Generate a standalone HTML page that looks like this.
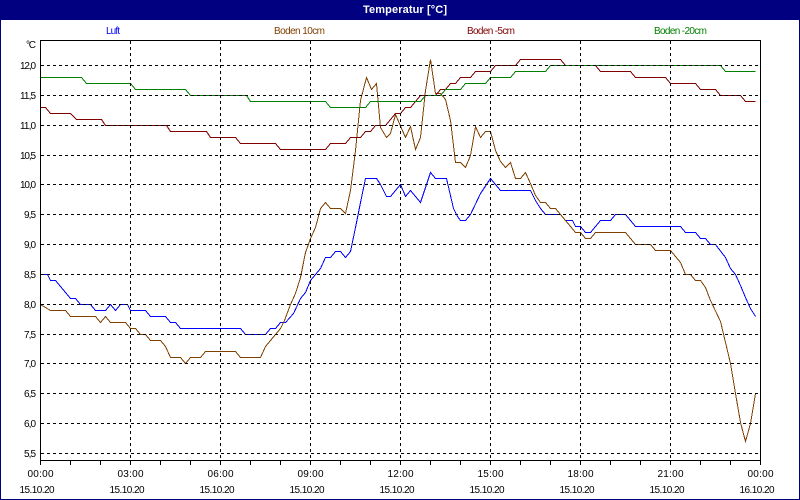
<!DOCTYPE html>
<html>
<head>
<meta charset="utf-8">
<style>
html,body{margin:0;padding:0;background:#fff;}
svg{display:block;}
text{font-family:"Liberation Sans",sans-serif;font-size:10px;}
</style>
</head>
<body>
<svg width="800" height="500" viewBox="0 0 800 500" xmlns="http://www.w3.org/2000/svg">
<rect x="0" y="0" width="800" height="500" fill="#fff"/>
<rect x="0" y="0" width="800" height="20" fill="#000080"/>
<rect x="0.5" y="0.5" width="799" height="499" fill="none" stroke="#000080" stroke-width="1" shape-rendering="crispEdges"/>
<text x="405" y="13" fill="#fff" text-anchor="middle" style="font-weight:bold;font-size:11px" textLength="84">Temperatur [°C]</text>

<!-- legend -->
<text x="106" y="34" fill="#0000ff" textLength="14">Luft</text>
<text x="274" y="34" fill="#804000" textLength="51">Boden 10cm</text>
<text x="467" y="34" fill="#800000" textLength="48">Boden -5cm</text>
<text x="654" y="34" fill="#008000" textLength="53">Boden -20cm</text>

<!-- series -->
<g transform="translate(0.5,0.5)" fill="none" stroke-width="1" shape-rendering="crispEdges">
<polyline stroke="#0000ff" points="40,274 47,274 50,280 55,280 70,298 75,298 80,304 90,304 95,310 105,310 110,304 115,310 120,304 127,304 130,310 145,310 150,316 165,316 170,322 175,322 180,328 240,328 245,334 265,334 270,328 275,328 280,322 285,322 293,313 300,298 305,292 310,280 320,268 325,257 330,257 335,251 340,251 345,257 350,251 355,227 360,202 365,178 376,178 380,184 386,196 390,196 400,184 405,196 410,190 420,202 430,172 435,178 446,178 453,208 457,216 460,220 465,220 470,214 480,193 490,178 500,190 530,190 535,200 540,208 545,214 560,214 565,220 572,220 575,226 580,226 585,232 590,232 595,226 600,220 610,220 615,214 625,214 630,220 635,226 680,226 685,232 695,232 700,238 705,238 710,244 715,244 725,257 730,268 735,274 740,285 745,297 750,308 755,316"/>
<polyline stroke="#804000" points="40,304 50,310 65,310 70,316 95,316 100,322 105,316 110,322 125,322 130,328 135,328 140,334 145,334 150,340 160,340 165,346 170,357 180,357 185,363 190,357 200,357 205,351 235,351 240,357 260,357 265,346 270,340 280,328 284,320 290,304 295,293 300,277 305,252 310,238 315,227 320,208 325,202 330,208 340,208 345,213 350,190 355,150 360,100 366,77 371,89 376,83 380,127 386,137 390,133 395,114 405,137 410,126 415,149 420,137 425,90 430,59 435,93 440,93 445,99 450,120 455,162 460,162 465,167 470,155 475,126 480,137 485,131 490,131 495,150 500,161 505,167 510,162 515,178 520,178 525,172 530,183 535,195 540,202 545,202 550,208 555,208 560,214 565,220 575,232 580,232 585,238 590,238 595,232 625,232 635,244 650,244 655,250 670,250 680,262 685,274 690,274 695,280 700,280 705,287 710,300 720,321 730,363 735,393 740,422 745,441 750,423 755,393"/>
<polyline stroke="#800000" points="40,107 45,107 50,113 70,113 76,119 101,119 105,125 166,125 170,131 206,131 210,137 235,137 240,143 275,143 280,149 325,149 330,143 345,143 350,137 360,137 365,131 370,131 375,125 385,125 390,119 395,113 400,113 405,107 410,107 415,101 420,95 435,95 440,89 445,89 450,83 455,83 460,77 470,77 475,71 490,71 495,65 515,65 520,59 560,59 565,65 595,65 600,71 630,71 635,77 665,77 670,83 695,83 700,89 715,89 720,95 740,95 745,101 755,101"/>
<polyline stroke="#008000" points="40,77 81,77 86,83 130,83 135,89 185,89 190,95 246,95 250,101 325,101 330,107 365,107 370,101 420,101 425,95 440,95 445,89 460,89 465,83 485,83 490,77 510,77 515,71 545,71 550,65 720,65 725,71 755,71"/>
</g>

<!-- grid -->
<g stroke="#000" stroke-width="1" stroke-dasharray="3,3" shape-rendering="crispEdges" fill="none">
<path d="M41 65.5H759 M41 95.5H759 M41 125.5H759 M41 155.5H759 M41 184.5H759 M41 214.5H759 M41 244.5H759 M41 274.5H759 M41 304.5H759 M41 334.5H759 M41 363.5H759 M41 393.5H759 M41 423.5H759 M41 453.5H759"/>
<path d="M130.5 41V460 M220.5 41V460 M310.5 41V460 M400.5 41V460 M490.5 41V460 M580.5 41V460 M670.5 41V460"/>
</g>

<!-- frame + ticks -->
<g stroke="#000" stroke-width="1" shape-rendering="crispEdges" fill="none">
<rect x="40.5" y="40.5" width="720" height="420"/>
<path d="M40.5 460V465 M70.5 460V465 M100.5 460V465 M130.5 460V465 M160.5 460V465 M190.5 460V465 M220.5 460V465 M250.5 460V465 M280.5 460V465 M310.5 460V465 M340.5 460V465 M370.5 460V465 M400.5 460V465 M430.5 460V465 M460.5 460V465 M490.5 460V465 M520.5 460V465 M550.5 460V465 M580.5 460V465 M610.5 460V465 M640.5 460V465 M670.5 460V465 M700.5 460V465 M730.5 460V465 M760.5 460V465"/>
</g>

<!-- y labels -->
<g fill="#000" text-anchor="end">
<text x="36" y="48" textLength="10">°C</text>
<text x="36" y="69" textLength="16">12,0</text>
<text x="36" y="99" textLength="16">11,5</text>
<text x="36" y="129" textLength="16">11,0</text>
<text x="36" y="159" textLength="16">10,5</text>
<text x="36" y="188" textLength="16">10,0</text>
<text x="36" y="218" textLength="12">9,5</text>
<text x="36" y="248" textLength="12">9,0</text>
<text x="36" y="278" textLength="12">8,5</text>
<text x="36" y="308" textLength="12">8,0</text>
<text x="36" y="338" textLength="12">7,5</text>
<text x="36" y="367" textLength="12">7,0</text>
<text x="36" y="397" textLength="12">6,5</text>
<text x="36" y="427" textLength="12">6,0</text>
<text x="36" y="457" textLength="12">5,5</text>
</g>

<!-- x labels -->
<g fill="#000" text-anchor="middle">
<text x="40.5" y="477" textLength="26">00:00</text>
<text x="130.5" y="477" textLength="26">03:00</text>
<text x="220.5" y="477" textLength="26">06:00</text>
<text x="310.5" y="477" textLength="26">09:00</text>
<text x="400.5" y="477" textLength="26">12:00</text>
<text x="490.5" y="477" textLength="26">15:00</text>
<text x="580.5" y="477" textLength="26">18:00</text>
<text x="670.5" y="477" textLength="26">21:00</text>
<text x="760.5" y="477" textLength="26">00:00</text>
<text x="37" y="493" textLength="35">15.10.20</text>
<text x="127" y="493" textLength="35">15.10.20</text>
<text x="217" y="493" textLength="35">15.10.20</text>
<text x="307" y="493" textLength="35">15.10.20</text>
<text x="397" y="493" textLength="35">15.10.20</text>
<text x="487" y="493" textLength="35">15.10.20</text>
<text x="577" y="493" textLength="35">15.10.20</text>
<text x="667" y="493" textLength="35">15.10.20</text>
<text x="757" y="493" textLength="35">16.10.20</text>
</g>
</svg>
</body>
</html>
